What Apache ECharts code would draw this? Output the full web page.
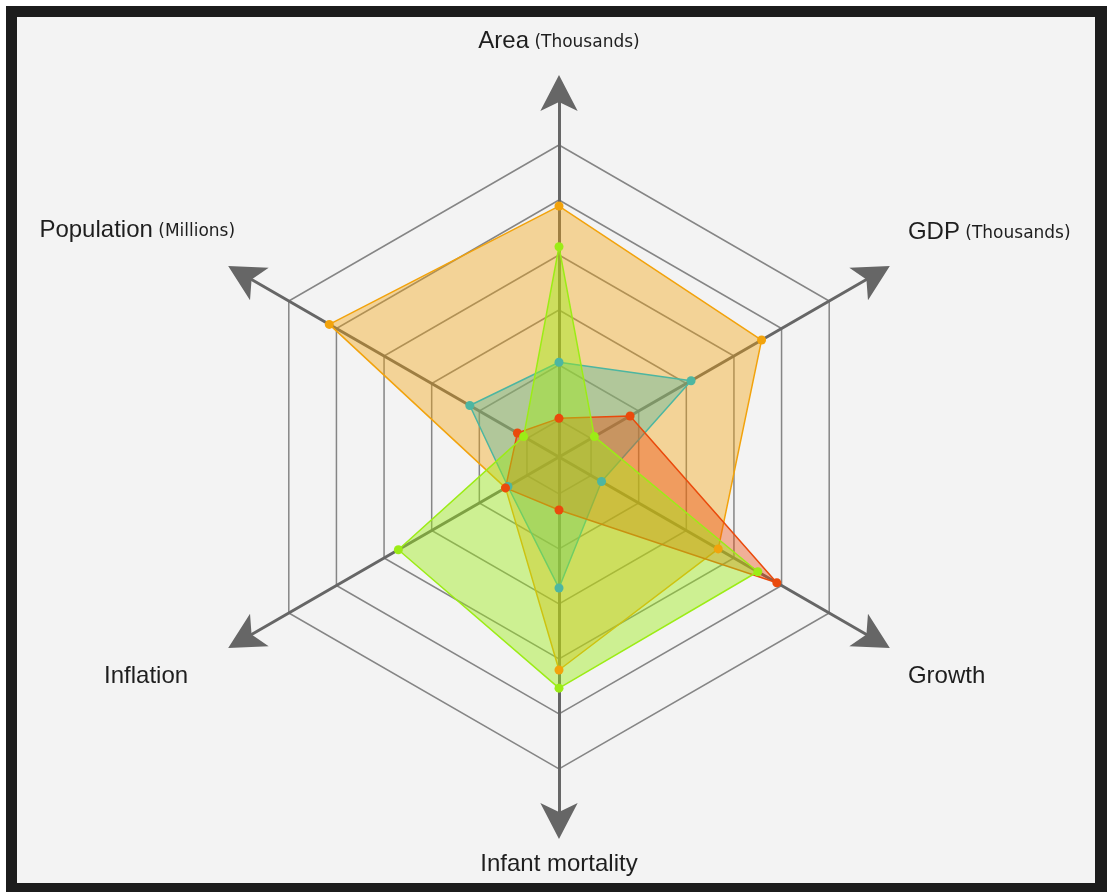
<!DOCTYPE html>
<html>
<head>
<meta charset="utf-8">
<title>Radar</title>
<script src="https://cdn.jsdelivr.net/npm/echarts@6/dist/echarts.min.js"></script>
<style>
  html, body { margin: 0; padding: 0; background: #fff; }
  #frame { position: absolute; left: 6px; top: 6px; width: 1101px; height: 886px; background: #1c1c1c; }
  #chart { position: absolute; left: 11px; top: 11px; width: 1078px; height: 866px; }
</style>
</head>
<body>
<div id="frame"><div id="chart"></div></div>
<script>
// axes go counterclockwise from the top, as echarts lays them out
var indicators = ['Area (Thousands)', 'Population (Millions)', 'Inflation', 'Infant mortality', 'Growth', 'GDP (Thousands)'];
// values in ring units: 0 = innermost ring, 5 = outer ring
var ringMax = 6;
var orangeValues = [3.89, 4.15, 0.45, 3.2, 2.67, 3.58];
var tealValues = [1.05, 1.2, 0.4, 1.71, 0.22, 2.1];
var redValues = [0.03, 0.2, 0.45, 0.29, 3.9, 0.82];
var limeValues = [3.15, 0.07, 2.7, 3.53, 3.5, 0.07];

var center = [542, 440];
var axisStyle = { color: '#666', width: 3 };
var gridColor = '#858585';

// spacer tokens to nudge each axis name where the original put it
var nameNudge = {
  'Area': { after: 'v30' },
  'Population': { after: 'v84' },
  'Inflation': { before: 'v60', right: 'h47' },
  'Infant mortality': { before: 'v17' },
  'Growth': { before: 'v60', left: 'h25' },
  'GDP': { after: 'v80', left: 'h25' }
}

function makeSeries (name, values, color, opacity) {
  return {
    type: 'radar',
    name: name,
    radarIndex: 0,
    symbol: 'circle',
    symbolSize: 9,
    itemStyle: { color: color },
    lineStyle: { color: color, width: 1.5 },
    areaStyle: { color: color, opacity: opacity },
    data: [{ value: values, name: name }]
  }
}

function vGap (h) { return { fontSize: 1, height: h, lineHeight: h } }

var chart = echarts.init(document.getElementById('chart'))
chart.setOption({
  backgroundColor: '#f3f3f3',
  animation: false,
  radar: [
    {
      center: center,
      radius: [37, 367],
      startAngle: 90,
      splitNumber: 6,
      shape: 'polygon',
      nameGap: 7,
      indicator: indicators.map(function (n) { return { name: n, min: 0, max: ringMax } }),
      axisName: {
        color: '#1e1e1e',
        formatter: function (name) {
          var m = name.match(/^(.*?) (\(.*\))$/)
          var main = m ? m[1] : name
          var nudge = nameNudge[main] || {}
          var line = '{main|' + main + '}' + (m ? '{sub| ' + m[2] + '}' : '')
          if (nudge.left) line = '{' + nudge.left + '| }' + line
          if (nudge.right) line = line + '{' + nudge.right + '| }'
          if (nudge.before) line = '{' + nudge.before + '| }\n' + line
          if (nudge.after) line = line + '\n{' + nudge.after + '| }'
          return line
        },
        rich: {
          main: { fontSize: 24, lineHeight: 28, verticalAlign: 'bottom', fontFamily: 'Liberation Sans', color: '#1e1e1e' },
          sub: { fontSize: 17, lineHeight: 20, verticalAlign: 'bottom', fontFamily: 'DejaVu Sans', color: '#1e1e1e', padding: [0, 0, 2, 0] },
          h25: { fontSize: 1, width: 25 },
          h47: { fontSize: 1, width: 47 },
          v17: vGap(17),
          v30: vGap(30),
          v60: vGap(60),
          v80: vGap(80),
          v84: vGap(84)
        }
      },
      axisLine: {
        show: true,
        symbol: ['none', 'arrow'],
        symbolSize: [28, 36],
        symbolOffset: [0, 15],
        lineStyle: axisStyle
      },
      axisTick: { show: false },
      axisLabel: { show: false },
      splitLine: {
        lineStyle: {
          width: 1.5,
          color: [gridColor, gridColor, gridColor, gridColor, gridColor, gridColor, 'rgba(0,0,0,0)']
        }
      },
      splitArea: { show: false }
    },
    {
      // short axis pieces inside the innermost ring
      center: center,
      radius: 37,
      startAngle: 90,
      indicator: indicators.map(function () { return { name: '', min: 0, max: 1 } }),
      axisName: { show: false },
      axisLine: { show: true, lineStyle: axisStyle },
      axisTick: { show: false },
      axisLabel: { show: false },
      splitLine: { show: false },
      splitArea: { show: false }
    }
  ],
  series: [
    makeSeries('Orange', orangeValues, '#f2a30c', 0.4),
    makeSeries('Teal', tealValues, '#4db6a1', 0.4),
    makeSeries('Red', redValues, '#ea4a0c', 0.4),
    makeSeries('Lime', limeValues, '#9cec16', 0.44)
  ]
})
window.addEventListener('resize', function () { chart.resize() })
</script>
</body>
</html>
